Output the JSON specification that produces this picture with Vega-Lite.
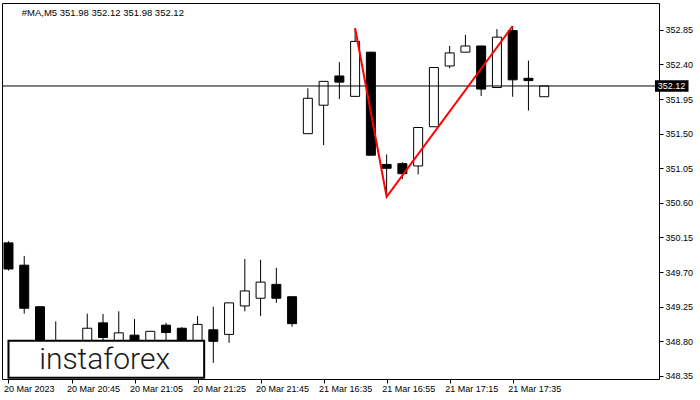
{
  "$schema": "https://vega.github.io/schema/vega-lite/v6.json",
  "width": 657,
  "height": 376,
  "autosize": {"type": "none"},
  "padding": {"left": 2, "top": 3, "right": 41, "bottom": 21},
  "background": "white",
  "config": {
    "view": {"stroke": "black", "strokeWidth": 1},
    "font": "Liberation Sans",
    "axis": {"labelOverlap": false, "labelFlush": false, "labelBound": false, "domain": false, "grid": false, "labelFontSize": 9, "labelColor": "black", "tickColor": "black", "labelFont": "Liberation Sans", "tickSize": 4}
  },
  "datasets": {
    "candles": [
      {"i": 0, "time": "20 Mar 20:25", "open": 350.08, "high": 350.10, "low": 349.72, "close": 349.74},
      {"i": 1, "time": "20 Mar 20:30", "open": 349.79, "high": 349.91, "low": 349.16, "close": 349.23},
      {"i": 2, "time": "20 Mar 20:35", "open": 349.25, "high": 349.25, "low": 348.60, "close": 348.70},
      {"i": 3, "time": "20 Mar 20:40", "open": 348.70, "high": 349.06, "low": 348.55, "close": 348.78},
      {"i": 4, "time": "20 Mar 20:45", "open": 348.78, "high": 348.79, "low": 348.60, "close": 348.68},
      {"i": 5, "time": "20 Mar 20:50", "open": 348.74, "high": 349.16, "low": 348.68, "close": 348.97},
      {"i": 6, "time": "20 Mar 20:55", "open": 349.04, "high": 349.155, "low": 348.75, "close": 348.85},
      {"i": 7, "time": "20 Mar 21:00", "open": 348.76, "high": 349.19, "low": 348.70, "close": 348.91},
      {"i": 8, "time": "20 Mar 21:05", "open": 348.88, "high": 349.09, "low": 348.65, "close": 348.74},
      {"i": 9, "time": "20 Mar 21:10", "open": 348.78, "high": 348.93, "low": 348.72, "close": 348.93},
      {"i": 10, "time": "20 Mar 21:15", "open": 349.01, "high": 349.04, "low": 348.78, "close": 348.915},
      {"i": 11, "time": "20 Mar 21:20", "open": 348.97, "high": 348.985, "low": 348.72, "close": 348.78},
      {"i": 12, "time": "20 Mar 21:25", "open": 348.76, "high": 349.13, "low": 348.70, "close": 349.02},
      {"i": 13, "time": "20 Mar 21:30", "open": 348.95, "high": 349.25, "low": 348.52, "close": 348.80},
      {"i": 14, "time": "20 Mar 21:35", "open": 348.89, "high": 349.30, "low": 348.78, "close": 349.30},
      {"i": 15, "time": "20 Mar 21:40", "open": 349.26, "high": 349.87, "low": 349.19, "close": 349.455},
      {"i": 16, "time": "20 Mar 21:45", "open": 349.36, "high": 349.86, "low": 349.13, "close": 349.57},
      {"i": 17, "time": "20 Mar 21:50", "open": 349.54, "high": 349.755, "low": 349.30, "close": 349.36},
      {"i": 18, "time": "20 Mar 21:55", "open": 349.38, "high": 349.38, "low": 348.99, "close": 349.03},
      {"i": 19, "time": "21 Mar 16:30", "open": 351.50, "high": 352.09, "low": 351.50, "close": 351.96},
      {"i": 20, "time": "21 Mar 16:35", "open": 351.87, "high": 352.18, "low": 351.35, "close": 352.18},
      {"i": 21, "time": "21 Mar 16:40", "open": 352.25, "high": 352.43, "low": 351.95, "close": 352.17},
      {"i": 22, "time": "21 Mar 16:45", "open": 351.985, "high": 352.87, "low": 351.985, "close": 352.70},
      {"i": 23, "time": "21 Mar 16:50", "open": 352.56, "high": 352.56, "low": 351.22, "close": 351.22},
      {"i": 24, "time": "21 Mar 16:55", "open": 351.10, "high": 351.23, "low": 350.68, "close": 351.05},
      {"i": 25, "time": "21 Mar 17:00", "open": 351.11, "high": 351.13, "low": 350.91, "close": 350.98},
      {"i": 26, "time": "21 Mar 17:05", "open": 351.08, "high": 351.58, "low": 350.97, "close": 351.58},
      {"i": 27, "time": "21 Mar 17:10", "open": 351.59, "high": 352.36, "low": 351.59, "close": 352.36},
      {"i": 28, "time": "21 Mar 17:15", "open": 352.38, "high": 352.64, "low": 352.35, "close": 352.55},
      {"i": 29, "time": "21 Mar 17:20", "open": 352.56, "high": 352.785, "low": 352.56, "close": 352.64},
      {"i": 30, "time": "21 Mar 17:25", "open": 352.64, "high": 352.64, "low": 351.99, "close": 352.08},
      {"i": 31, "time": "21 Mar 17:30", "open": 352.10, "high": 352.86, "low": 352.10, "close": 352.755},
      {"i": 32, "time": "21 Mar 17:35", "open": 352.84, "high": 352.90, "low": 351.98, "close": 352.20},
      {"i": 33, "time": "21 Mar 17:40", "open": 352.22, "high": 352.45, "low": 351.80, "close": 352.19},
      {"i": 34, "time": "21 Mar 17:45", "open": 351.98, "high": 352.12, "low": 351.98, "close": 352.12}
    ],
    "pattern": [
      {"i": 22, "price": 352.87},
      {"i": 24, "price": 350.68},
      {"i": 32, "price": 352.90}
    ]
  },
  "layer": [
    {
      "data": {"name": "candles"},
      "mark": {"type": "rule", "color": "black", "strokeWidth": 1, "clip": true},
      "encoding": {
        "x": {
          "field": "i", "type": "quantitative",
          "scale": {"domain": [-0.09375, 40.96875], "nice": false, "zero": false},
          "axis": {
            "orient": "bottom", "values": [0, 4, 8, 12, 16, 20, 24, 28, 32], "tickCount": 40,
            "labelExpr": "['20 Mar 2023','20 Mar 20:45','20 Mar 21:05','20 Mar 21:25','20 Mar 21:45','21 Mar 16:35','21 Mar 16:55','21 Mar 17:15','21 Mar 17:35'][round(datum.value/4)]",
            "labelAlign": "left", "labelFlush": false, "labelOverlap": false, "labelBound": false,
            "labelOffset": -5,
            "tickSize": 4, "labelPadding": 1, "domain": false, "grid": false, "title": null
          }
        },
        "y": {
          "field": "low", "type": "quantitative",
          "scale": {"domain": [348.31, 353.199], "nice": false, "zero": false},
          "axis": {
            "orient": "right",
            "values": [348.35, 348.8, 349.25, 349.7, 350.15, 350.6, 351.05, 351.5, 351.95, 352.4, 352.85], "tickCount": 40,
            "format": ".2f", "tickSize": 4, "labelPadding": 2, "domain": false, "grid": false, "title": null,
            "labelOverlap": false, "labelFlush": false, "labelBound": false
          }
        },
        "y2": {"field": "high"}
      }
    },
    {
      "data": {"name": "candles"},
      "mark": {"type": "bar", "size": 9, "stroke": "black", "strokeWidth": 1, "clip": true},
      "encoding": {
        "x": {"field": "i", "type": "quantitative"},
        "y": {"field": "open", "type": "quantitative"},
        "y2": {"field": "close"},
        "fill": {"condition": {"test": "datum.close > datum.open", "value": "white"}, "value": "black"}
      }
    },
    {
      "data": {"values": [{}]},
      "mark": {"type": "rule", "color": "black", "strokeWidth": 1},
      "encoding": {"y": {"datum": 352.12}}
    },
    {
      "data": {"name": "pattern"},
      "mark": {"type": "line", "color": "#ff0000", "strokeWidth": 2},
      "encoding": {
        "x": {"field": "i", "type": "quantitative"},
        "y": {"field": "price", "type": "quantitative"}
      }
    },
    {
      "data": {"values": [{}]},
      "mark": {"type": "rect", "fill": "white", "stroke": "black", "strokeWidth": 2},
      "encoding": {
        "x": {"datum": 0}, "x2": {"datum": 12.42},
        "y": {"datum": 348.808}, "y2": {"datum": 348.325}
      }
    },
    {
      "data": {"values": [{}]},
      "mark": {"type": "text", "text": "instaforex", "font": "Roboto", "fontSize": 30, "fontWeight": 300, "color": "#1a1a1a", "align": "center", "baseline": "alphabetic"},
      "encoding": {"x": {"datum": 6.1}, "y": {"datum": 348.436}}
    },
    {
      "data": {"values": [{}]},
      "mark": {"type": "text", "text": "#MA,M5  351.98 352.12 351.98 352.12", "font": "Liberation Sans", "fontSize": 9.5, "color": "black", "align": "left", "baseline": "middle"},
      "encoding": {"x": {"datum": 0.844}, "y": {"datum": 353.073}}
    },
    {
      "data": {"values": [{}]},
      "mark": {"type": "rect", "fill": "black"},
      "encoding": {
        "x": {"datum": 41.03}, "x2": {"datum": 43.16},
        "y": {"datum": 352.195}, "y2": {"datum": 352.045}
      }
    },
    {
      "data": {"values": [{}]},
      "mark": {"type": "text", "text": "352.12", "font": "Liberation Sans", "fontSize": 9, "color": "white", "align": "left", "baseline": "middle"},
      "encoding": {"x": {"datum": 41.2}, "y": {"datum": 352.12}}
    }
  ]
}
